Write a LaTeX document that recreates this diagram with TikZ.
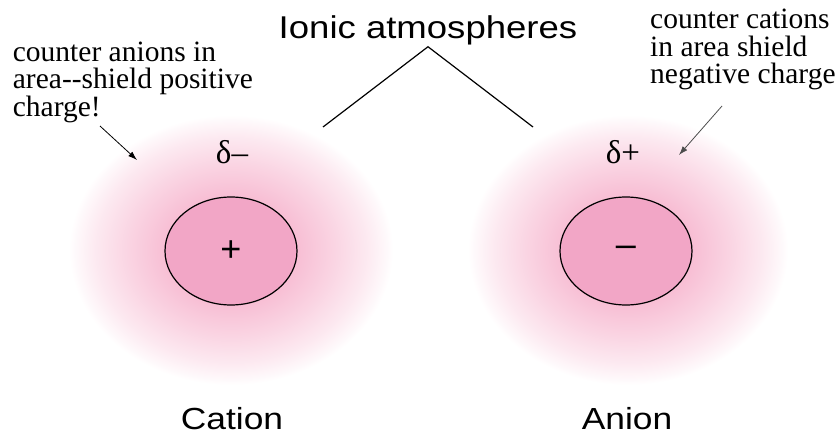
\documentclass[tikz,border=0pt]{standalone}
\usepackage{fontspec}
\setmainfont{Liberation Serif}
\setsansfont{Liberation Sans}
\newfontfamily\widesans[FakeStretch=1.16]{Liberation Sans}
\usetikzlibrary{shapes.geometric, arrows.meta, positioning}
\definecolor{corepink}{RGB}{242,166,198}
\definecolor{atmospink}{RGB}{246,178,204}
\pgfdeclareradialshading{atmosphere}{\pgfpoint{0bp}{0bp}}{%
  color(0bp)=(atmospink); color(10bp)=(atmospink!85!white); color(16bp)=(atmospink!55!white);
  color(21bp)=(atmospink!28!white); color(24bp)=(atmospink!8!white); color(25bp)=(white); color(50bp)=(white)}

\begin{document}
\begin{tikzpicture}[
        x=1pt, y=-1pt,
        core/.style={ellipse, draw=black, line width=1.2pt, fill=corepink, minimum width=132pt, minimum height=108pt, inner sep=0pt, font=\sffamily\fontsize{36}{36}\selectfont},
        ionname/.style={font=\widesans\fontsize{30.5}{30.5}\selectfont, anchor=base, inner sep=0pt},
        headline/.style={font=\widesans\fontsize{31.5}{31.5}\selectfont, anchor=base, inner sep=2pt},
        delta/.style={font=\fontsize{33}{33}\selectfont, anchor=base, inner sep=0pt},
        note/.style={font=\fontsize{29.5}{27.5}\selectfont, align=left, anchor=north west, inner sep=0pt},
        pointer/.style={-{Latex[length=9pt,width=6pt]}, line width=0.8pt},
        bracket/.style={line width=1.2pt}
    ]
        \useasboundingbox (0,0) rectangle (839,434);

        % Atmospheres
        \shade[shading=atmosphere] (231,250) ellipse (162pt and 135pt);
        \shade[shading=atmosphere] (628,250) ellipse (160pt and 135pt);

        % Ions
        \node[core] (cation) at (231,251) {+};
        \node[core] (anion) at (626,251) {–};
        \node[delta] (catdelta) at (232,163) {δ–};
        \node[delta] (andelta) at (623,163) {δ+};
        \node[ionname] (catname) at (232,429) {Cation};
        \node[ionname] (anname) at (627,429) {Anion};

        % Ionic atmospheres
        \node[headline] (atmos) at (428,38) {Ionic atmospheres};
        \coordinate (catrim) at (323,127);
        \coordinate (anrim) at (533,127);
        \draw[bracket] (catrim) -- (atmos.south) -- (anrim);

        % Notes
        \node[note] (catnote) at (12.7,41.6) {counter anions in\\area-{}-shield positive\\charge!};
        \node[note] (annote) at (650,9) {counter cations\\in area shield\\negative charge};
        \coordinate (catfrom) at (100,126);
        \coordinate (catto) at (137,160);
        \coordinate (anfrom) at (722,106);
        \coordinate (anto) at (679,155);
        \draw[pointer] (catfrom) -- (catto);
        \draw[pointer, gray!60!black] (anfrom) -- (anto);
    \end{tikzpicture}
\end{document}
